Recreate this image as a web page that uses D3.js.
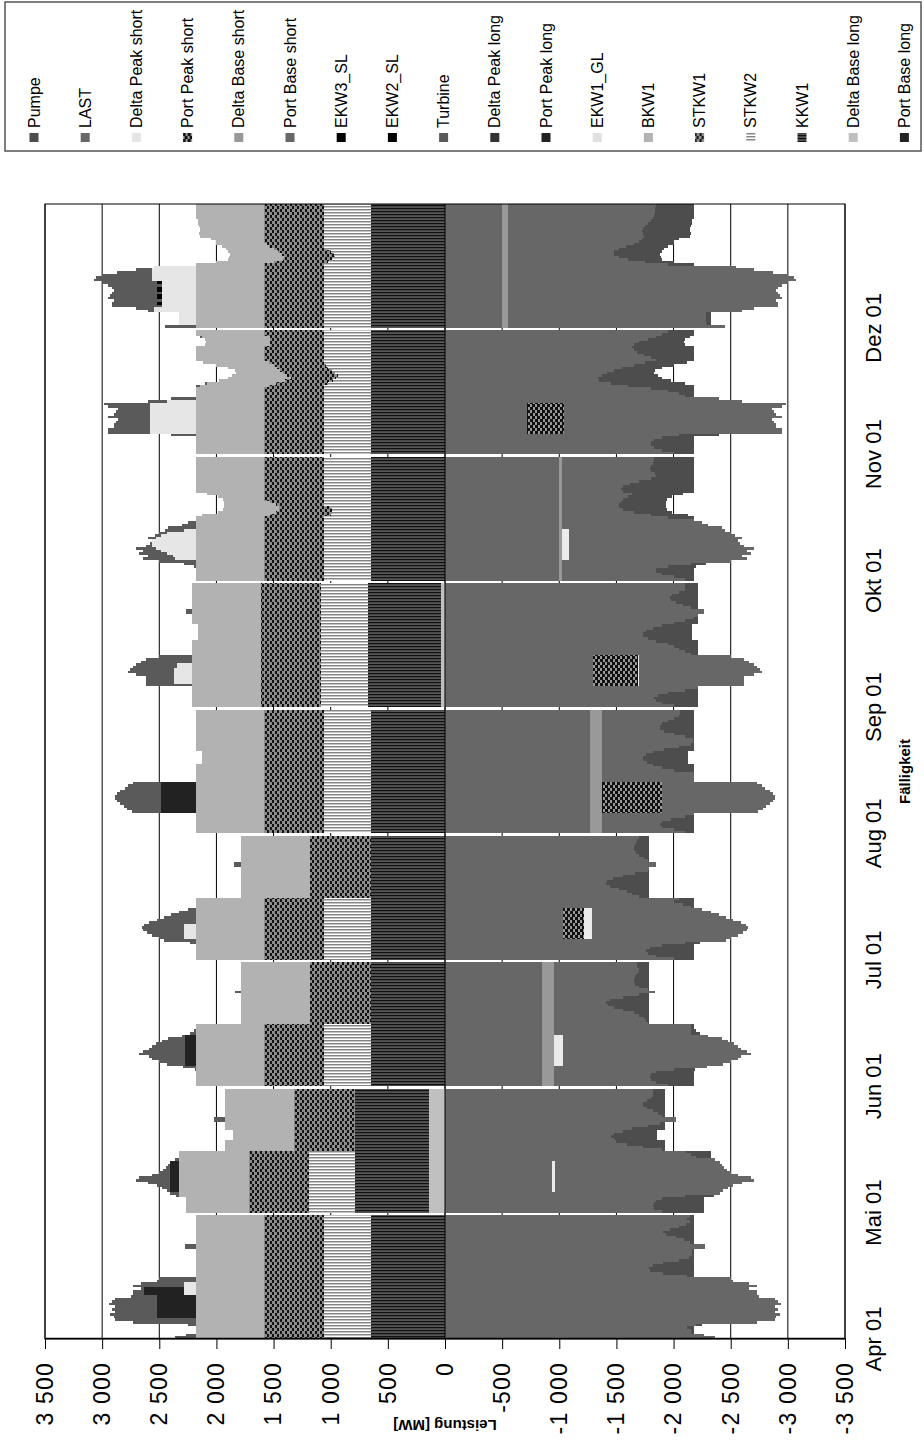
<!DOCTYPE html>
<html>
<head>
<meta charset="utf-8">
<script src="https://d3js.org/d3.v7.min.js"></script>
<style>
  body { margin: 0; background: #fff; }
  text { font-family: "Liberation Sans", Arial, sans-serif; fill: #000; }
</style>
</head>
<body>
<svg id="chart" width="924" height="1442"></svg>
<script>

// ---- data: 9 months, each = one working day (h 0-23) + one weekend day (h 24-47) ----
var months = ["Apr 01", "Mai 01", "Jun 01", "Jul 01", "Aug 01", "Sep 01", "Okt 01", "Nov 01", "Dez 01"];
var valueTicks = [-3500, -3000, -2500, -2000, -1500, -1000, -500, 0, 500, 1000, 1500, 2000, 2500, 3000, 3500];

// outer edge of both stacks (supply = demand) in MW
var total = [
  [2364,2270,2182,2182,2182,2250,2727,2886,2900,2930,2890,2910,2890,2940,2910,2886,2750,2727,2727,2660,2727,2660,2523,2500,
   2182,2182,2182,2182,2182,2182,2182,2182,2182,2182,2182,2273,2273,2182,2182,2182,2182,2182,2182,2182,2182,2182,2182,2182],
  [2270,2270,2270,2270,2270,2270,2350,2409,2430,2480,2520,2600,2700,2680,2560,2500,2470,2440,2420,2410,2360,2330,2327,2327,
   1927,1927,1927,1927,1855,1855,1855,1855,1927,1927,1927,2020,2020,1927,1927,1927,1927,1927,1927,1927,1927,1927,1927,1927],
  [2182,2182,2182,2182,2182,2182,2190,2290,2430,2500,2560,2590,2680,2640,2590,2560,2530,2480,2420,2300,2230,2200,2182,2182,
   1786,1786,1786,1786,1786,1786,1786,1786,1786,1786,1786,1786,1840,1786,1786,1786,1786,1786,1786,1786,1786,1786,1786,1786],
  [2182,2182,2182,2182,2182,2182,2230,2455,2500,2560,2610,2640,2650,2630,2590,2520,2460,2400,2330,2250,2182,2182,2182,2182,
   1786,1786,1786,1786,1786,1786,1786,1786,1786,1786,1786,1786,1850,1850,1786,1786,1786,1786,1786,1786,1786,1786,1786,1786],
  [2182,2182,2182,2182,2182,2182,2182,2182,2740,2780,2810,2840,2870,2890,2890,2870,2840,2800,2770,2730,2182,2182,2182,2182,
   2182,2182,2182,2130,2130,2130,2130,2130,2182,2182,2182,2182,2182,2182,2182,2182,2182,2182,2182,2182,2182,2182,2182,2182],
  [2218,2218,2218,2218,2218,2218,2218,2218,2614,2614,2614,2614,2700,2773,2760,2727,2705,2660,2614,2500,2218,2218,2218,2218,
   2218,2218,2160,2160,2160,2160,2160,2160,2218,2218,2218,2218,2270,2270,2218,2218,2218,2218,2218,2218,2218,2218,2218,2218],
  [2182,2182,2182,2182,2182,2200,2280,2500,2640,2600,2680,2640,2700,2620,2580,2560,2600,2540,2500,2450,2420,2300,2250,2182,
   2182,2130,1990,1940,1932,1932,1932,1940,1990,2080,2182,2182,2182,2182,2182,2182,2182,2182,2182,2182,2182,2182,2182,2182],
  [2182,2182,2182,2182,2182,2182,2182,2400,2950,2950,2900,2900,2880,2860,2950,2900,2880,2860,2950,2980,2600,2400,2182,2182,
   2182,2182,2182,2100,1980,1900,1860,1830,1840,1900,2000,2120,2182,2182,2182,2182,2182,2182,2100,2090,2100,2140,2182,2182],
  [2450,2327,2327,2327,2327,2327,2600,2700,2910,2910,2900,2950,2930,2910,2900,2910,2950,3000,3068,3050,3000,2870,2700,2550,
   2182,2000,1900,1890,1880,1900,1920,1950,2000,2000,2050,2140,2150,2140,2140,2150,2160,2160,2182,2182,2182,2182,2182,2182]
];

// load edge (LAST incl. the short/long sales inside it), the rest up to total is Pumpe
var load = [
  [2364,2270,2150,2150,2114,2200,2727,2886,2900,2930,2890,2910,2890,2940,2910,2886,2750,2727,2727,2660,2727,2660,2523,2500,
   2114,1909,1795,1782,1818,1909,2045,2136,2160,2160,2160,2273,2273,2140,2090,2020,1930,1909,1970,2050,2110,2140,2120,2140],
  [1900,1830,1820,1830,1850,1900,2100,2409,2430,2480,2520,2600,2700,2680,2560,2500,2470,2440,2420,2410,2360,2200,2150,2110,
   1900,1730,1590,1500,1480,1455,1480,1560,1640,1780,1880,2020,2020,1900,1860,1820,1770,1730,1730,1770,1800,1820,1820,1820],
  [1950,1850,1800,1790,1800,1850,2000,2290,2430,2500,2560,2590,2680,2640,2590,2560,2530,2480,2420,2300,2150,2150,2150,2150,
   1773,1760,1740,1700,1650,1560,1480,1430,1410,1440,1560,1700,1840,1773,1700,1660,1650,1650,1660,1680,1700,1700,1680,1680],
  [2000,1850,1780,1760,1790,1900,2100,2455,2500,2560,2610,2640,2650,2630,2590,2520,2460,2400,2330,2250,2150,2080,2000,2050,
   1700,1640,1590,1520,1440,1410,1420,1470,1560,1660,1773,1786,1850,1850,1773,1740,1700,1670,1650,1650,1660,1670,1680,1700],
  [2100,2000,1900,1880,1900,1980,2100,2182,2740,2780,2810,2840,2870,2890,2890,2870,2840,2800,2770,2730,2182,2182,2182,2182,
   2000,1900,1820,1770,1730,1730,1760,1820,1920,2050,2150,2173,2173,2100,2000,1920,1880,1880,1900,1950,2000,2050,2060,2060],
  [2000,1900,1850,1830,1860,1950,2100,2218,2614,2614,2614,2614,2700,2773,2760,2727,2705,2660,2614,2500,2150,2100,2050,2000,
   1950,1850,1780,1730,1730,1760,1820,1900,2000,2100,2180,2218,2270,2270,2150,2080,2020,1980,1970,1990,2050,2100,2100,2100],
  [2100,2000,1900,1850,1850,1950,2150,2500,2640,2600,2680,2640,2700,2620,2580,2560,2600,2540,2500,2450,2420,2300,2250,2182,
   1950,1800,1650,1560,1520,1520,1540,1560,1600,1640,1560,1540,1560,1620,1700,1800,1850,1840,1800,1790,1800,1820,1830,1830],
  [2000,1900,1830,1800,1800,1830,1900,2050,2950,2950,2900,2900,2880,2860,2950,2900,2880,2860,2950,2980,2600,2400,2100,2050,
   1950,1800,1600,1450,1350,1340,1370,1420,1480,1550,1650,1750,1850,1800,1740,1680,1650,1636,1650,1700,1780,1850,1900,1950],
  [2450,2280,2280,2280,2280,2280,2600,2700,2910,2910,2900,2950,2930,2910,2900,2910,2950,3000,3068,3050,3000,2870,2700,2550,
   1950,1750,1600,1520,1480,1480,1520,1580,1650,1700,1720,1740,1730,1720,1730,1750,1780,1800,1820,1830,1840,1840,1840,1850]
];

// base plants per month: [working day, weekend]
var deltaBaseLong = [0, 136, 0, 0, 0, 36, 0, 0, 0];
var kkw1  = [650, 655, 650, 650, 650, 641, 650, 650, 650];
var stkw2 = [[405,405],[400,0],[405,0],[405,0],[405,405],[409,409],[405,405],[405,405],[405,405]];
var stkw1 = [[527,527],[527,527],[527,532],[527,532],[527,527],[523,523],[527,527],[527,527],[527,527]];
var bkw1  = [[600,600],[609,609],[600,604],[600,604],[600,600],[609,609],[600,600],[600,600],[600,600]];

// hourly deviations of the storage plants: month index -> [hour, MW]
var stkw2Hourly = {
  6: [[25,350],[26,340],[27,340],[28,360]],
  7: [[27,370],[28,330],[29,300],[30,290],[31,310],[32,340],[33,370],[34,390]],
  8: [[25,370],[26,340],[27,310],[28,320],[29,350],[30,380]]
};
var stkw1Hourly = {
  6: [[26,490],[27,460],[28,440],[29,425],[30,475]],
  7: [[26,485],[27,460],[28,420],[29,400],[30,440],[31,460],[32,450],[33,450],[34,460],[35,485],[42,475],[43,475],[44,475],[45,475]],
  8: [[25,480],[26,430],[27,450],[28,460],[29,460],[30,470],[31,485],[32,505]]
};

// peak products as runs [fromHour, toHour, MW]
var deltaPeakShort = [
  [[17,21,100]], [], [], [[8,13,100]], [],
  [[9,14,155],[15,16,130]],
  [[8,8,180],[9,9,200],[10,10,250],[11,11,300],[12,12,350],[13,15,380],[16,16,350],[17,17,300],[18,18,250],[19,19,100]],
  [[8,19,400],[20,20,250]],
  [[1,5,145],[6,7,360],[8,17,290],[18,23,380]]
];
var portPeakLong = [[[8,16,341],[17,19,355]], [[8,19,82]], [[8,19,91]], [], [[8,19,305]], [], [], [], []];
var ekw3 = [[], [], [], [], [], [], [], [], [[9,9,50],[11,12,50],[14,15,50],[17,17,50]]];

// sales side (negative)
var portBaseShort  = [0, 940, 845, 1032, 1273, 1295, 1000, 714, 500];
var deltaBaseShort = [0, 0, 110, 0, 100, 0, 25, 0, 55];
var portPeakShort  = [[], [], [], [[8,19,186]], [[8,19,527]], [[8,19,395]], [], [[8,19,331]], []];
var deltaPeakShortSold = [[], [[8,19,22]], [[8,19,80]], [[8,19,64]], [], [[8,19,10]], [[8,19,60]], [], []];

var legendNames = ["Pumpe","LAST","Delta Peak short","Port Peak short","Delta Base short","Port Base short",
  "EKW3_SL","EKW2_SL","Turbine","Delta Peak long","Port Peak long","EKW1_GL","BKW1","STKW1","STKW2","KKW1",
  "Delta Base long","Port Base long"];
var legendFills = ["#4d4d4d","#676767","#e6e6e6","url(#pPPS)","#999999","#676767","#000","#000","#5a5a5a",
  "#333333","#222222","#e0e0e0","#b2b2b2","url(#pSTKW1)","url(#pSTKW2)","url(#pKKW1)","#c0c0c0","#222222"];

// ---- build the hourly table ----
var HOURS = 48, SLOTS = months.length * (HOURS + 1) - 1;

function fromRuns(runs) {
  var a = [];
  for (var h = 0; h < HOURS; h++) a.push(0);
  (runs || []).forEach(function(r) { for (var h = r[0]; h <= r[1]; h++) a[h] = r[2]; });
  return a;
}
function hourly(map, m, h, fallback) {
  var list = map[m] || [];
  for (var i = 0; i < list.length; i++) if (list[i][0] == h) return list[i][1];
  return fallback;
}

var posKeys = ["DBL","KKW1","STKW2","STKW1","BKW1","DPS","PPL","EKW3","Turbine"];
var negKeys = ["PBS","DBS","PPS","DPSn","LAST","Pumpe"];
var fills = {
  DBL: "#c0c0c0", KKW1: "url(#pKKW1)", STKW2: "url(#pSTKW2)", STKW1: "url(#pSTKW1)", BKW1: "#b2b2b2",
  DPS: "#e6e6e6", PPL: "#222222", EKW3: "#000", Turbine: "#5a5a5a",
  PBS: "#676767", DBS: "#999999", PPS: "url(#pPPS)", DPSn: "#ebebeb", LAST: "#676767", Pumpe: "#4d4d4d"
};

var rows = [];
months.forEach(function(name, m) {
  var dps = fromRuns(deltaPeakShort[m]), ppl = fromRuns(portPeakLong[m]), ek = fromRuns(ekw3[m]);
  var pps = fromRuns(portPeakShort[m]), dpsn = fromRuns(deltaPeakShortSold[m]);
  for (var h = 0; h < HOURS; h++) {
    var day = h < 24 ? 0 : 1, T = total[m][h], L = load[m][h];
    var row = { slot: m * (HOURS + 1) + h };
    var nominal = {
      DBL: deltaBaseLong[m], KKW1: kkw1[m],
      STKW2: hourly(stkw2Hourly, m, h, stkw2[m][day]),
      STKW1: hourly(stkw1Hourly, m, h, stkw1[m][day]),
      BKW1: bkw1[m][day], DPS: dps[h], PPL: ppl[h], EKW3: ek[h]
    };
    var cum = 0;
    posKeys.slice(0, -1).forEach(function(k) {
      var v = Math.max(0, Math.min(nominal[k], T - cum));
      row[k] = v; cum += v;
    });
    row.Turbine = Math.max(0, T - cum);
    var inner = portBaseShort[m] + deltaBaseShort[m] + pps[h] + dpsn[h];
    row.PBS = -portBaseShort[m];
    row.DBS = -deltaBaseShort[m];
    row.PPS = -pps[h];
    row.DPSn = -dpsn[h];
    row.LAST = -Math.max(0, L - inner);
    row.Pumpe = -Math.max(0, T - L);
    rows.push(row);
  }
});

var series = d3.stack().keys(posKeys.concat(negKeys)).offset(d3.stackOffsetDiverging)(rows);

// ---- drawing (chart built in landscape, then turned a quarter to the left) ----
var svg = d3.select("#chart");
var defs = svg.append("defs");

var pK = defs.append("pattern").attr("id", "pKKW1").attr("patternUnits", "userSpaceOnUse").attr("width", 3).attr("height", 2);
pK.append("rect").attr("width", 3).attr("height", 2).attr("fill", "#555");
pK.append("rect").attr("width", 1).attr("height", 2).attr("fill", "#111");
pK.append("rect").attr("x", 2).attr("width", 1).attr("height", 2).attr("fill", "#474747");

var pS2 = defs.append("pattern").attr("id", "pSTKW2").attr("patternUnits", "userSpaceOnUse").attr("width", 3).attr("height", 2);
pS2.append("rect").attr("width", 3).attr("height", 2).attr("fill", "#fff");
pS2.append("rect").attr("x", 1).attr("width", 1).attr("height", 2).attr("fill", "#c4c4c4");
pS2.append("rect").attr("x", 2).attr("width", 1).attr("height", 2).attr("fill", "#858585");

var pS1 = defs.append("pattern").attr("id", "pSTKW1").attr("patternUnits", "userSpaceOnUse").attr("width", 6).attr("height", 5);
pS1.append("rect").attr("width", 6).attr("height", 5).attr("fill", "#8c8c8c");
pS1.append("rect").attr("width", 3).attr("height", 2).attr("fill", "#111");
pS1.append("rect").attr("x", 3).attr("y", 2).attr("width", 3).attr("height", 2).attr("fill", "#111");

var pP = defs.append("pattern").attr("id", "pPPS").attr("patternUnits", "userSpaceOnUse").attr("width", 6).attr("height", 5);
pP.append("rect").attr("width", 6).attr("height", 5).attr("fill", "#999");
pP.append("rect").attr("width", 3).attr("height", 3).attr("fill", "#111");
pP.append("rect").attr("x", 3).attr("y", 2).attr("width", 3).attr("height", 3).attr("fill", "#111");

var g = svg.append("g").attr("transform", "translate(0,1442) rotate(-90)");

var x = d3.scaleLinear().domain([0, SLOTS]).range([103, 1238]);
var y = d3.scaleLinear().domain([-3500, 3500]).range([845, 45]);

// grid
g.append("g").selectAll("line").data(valueTicks).enter().append("line")
  .attr("x1", x(0)).attr("x2", x(SLOTS))
  .attr("y1", function(d) { return y(d); }).attr("y2", function(d) { return y(d); })
  .attr("stroke", "#000").attr("stroke-width", 1);

var area = d3.area()
  .x(function(d) { return x(d.slot); })
  .y0(function(d) { return y(d.v0); })
  .y1(function(d) { return y(d.v1); })
  .curve(d3.curveStepAfter);

var layer = g.append("g").attr("shape-rendering", "crispEdges");
series.forEach(function(s) {
  months.forEach(function(name, m) {
    var pts = [];
    for (var h = 0; h < HOURS; h++) {
      var d = s[m * HOURS + h];
      pts.push({ slot: d.data.slot, v0: d[0], v1: d[1] });
    }
    var last = pts[pts.length - 1];
    pts.push({ slot: last.slot + 1, v0: last.v0, v1: last.v1 });
    layer.append("path").attr("d", area(pts)).attr("fill", fills[s.key]);
  });
});

// zero line and frame
g.append("line").attr("x1", x(0)).attr("x2", x(SLOTS)).attr("y1", y(0)).attr("y2", y(0))
  .attr("stroke", "#000").attr("stroke-width", 1);
g.append("rect").attr("x", x(0)).attr("y", y(3500)).attr("width", x(SLOTS) - x(0)).attr("height", y(-3500) - y(3500))
  .attr("fill", "none").attr("stroke", "#000").attr("stroke-width", 1);

// value axis
var de = d3.formatLocale({ decimal: ",", thousands: " ", grouping: [3], currency: ["", " €"], minus: "-" });
var yAxis = g.append("g").attr("transform", "translate(" + x(0) + ",0)")
  .call(d3.axisLeft(y).tickValues(valueTicks).tickSize(10).tickSizeOuter(0).tickPadding(13).tickFormat(de.format(",d")));
yAxis.select(".domain").attr("stroke", "#000").attr("stroke-width", 1.5);
yAxis.selectAll(".tick line").attr("stroke", "#000");
yAxis.selectAll("text").attr("font-size", 23).attr("letter-spacing", "1.2px")
  .attr("font-family", "'Liberation Sans', Arial, sans-serif").attr("fill", "#000");

g.append("text").attr("transform", "translate(22," + y(0) + ") rotate(-90)")
  .attr("text-anchor", "middle").attr("font-size", 15).attr("font-weight", "bold").text("Leistung [MW]");

// time axis labels
g.append("g").selectAll("text").data(months).enter().append("text")
  .attr("x", function(d, i) { return x(i * (HOURS + 1)); })
  .attr("y", 873).attr("dy", "0.35em").attr("text-anchor", "middle").attr("font-size", 22)
  .text(function(d) { return d; });

g.append("text").attr("x", (x(0) + x(SLOTS)) / 2).attr("y", 905).attr("dy", "0.35em")
  .attr("text-anchor", "middle").attr("font-size", 15).attr("font-weight", "bold").text("Fälligkeit");

// legend
var legend = g.append("g");
legend.append("rect").attr("x", 1291).attr("y", 5).attr("width", 149).attr("height", 916)
  .attr("fill", "#fff").attr("stroke", "#555").attr("stroke-width", 1.5);
var item = legend.selectAll("g.item").data(legendNames).enter().append("g").attr("class", "item")
  .attr("transform", function(d, i) { return "translate(1300," + (34 + i * 51.2) + ")"; });
item.append("rect").attr("y", -4.5).attr("width", 9).attr("height", 9)
  .attr("fill", function(d, i) { return legendFills[i]; });
item.append("text").attr("x", 14).attr("dy", "0.35em").attr("font-size", 16).text(function(d) { return d; });

</script>
</body>
</html>
